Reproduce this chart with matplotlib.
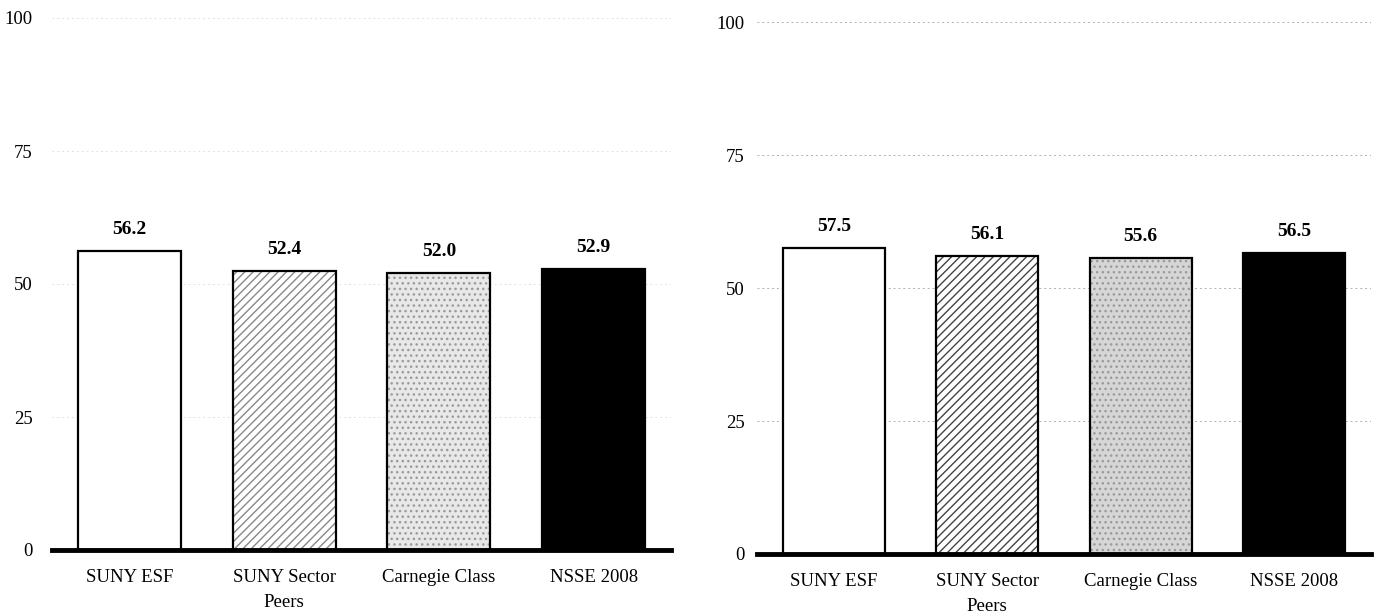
import matplotlib.pyplot as plt

plt.rcParams["font.family"] = ["Liberation Serif", "DejaVu Serif"]

categories = ["SUNY ESF", "SUNY Sector\nPeers", "Carnegie Class", "NSSE 2008"]
left_values = [56.2, 52.4, 52.0, 52.9]
right_values = [57.5, 56.1, 55.6, 56.5]
yticks = [0, 25, 50, 75, 100]

fig = plt.figure(figsize=(13.76, 6.15), dpi=100)
ax_l = fig.add_axes([52 / 1376, 65 / 615, 619 / 1376, 532 / 615])
ax_r = fig.add_axes([757 / 1376, 61 / 615, 614 / 1376, 532 / 615])


def draw_panel(ax, values, stipple_face, grid_color, hatch_color, pad):
    x = range(len(values))
    w = 0.665
    # fills (hatch drawn with edgecolor, so outline is drawn separately)
    fills = ["white", "white", stipple_face, "black"]
    hatches = [None, "////", "...", None]
    hcols = ["white", hatch_color, "#9a9a9a", "black"]
    for i, v in enumerate(values):
        ax.bar(i, v, width=w, color=fills[i], hatch=hatches[i],
               edgecolor=hcols[i], linewidth=0, zorder=2)
    ax.bar(x, values, width=w, facecolor="none", edgecolor="black",
           linewidth=1.6, zorder=3)
    for i, v in enumerate(values):
        ax.annotate(f"{v:.1f}", (i, v), xytext=(0, 13), textcoords="offset pixels",
                    ha="center", va="bottom", fontsize=14, fontweight="bold")

    for t in yticks[1:]:
        ax.axhline(t, color=grid_color, linestyle=(0, (2, 3)), linewidth=0.7, zorder=1)

    ax.set_xlim(-0.5, 3.5)
    ax.set_ylim(0, 100)
    ax.set_yticks(yticks)
    ax.set_xticks(list(x))
    ax.set_xticklabels(categories, linespacing=1.55)
    for s in ["top", "right", "left"]:
        ax.spines[s].set_visible(False)
    ax.spines["bottom"].set_linewidth(3.5)
    ax.spines["bottom"].set_zorder(4)
    ax.tick_params(axis="both", length=0, labelsize=13.5)
    ax.tick_params(axis="y", pad=pad)
    ax.tick_params(axis="x", pad=14)


draw_panel(ax_l, left_values, "#e8e8e8", "#e2e2e2", "#888888", 14)
draw_panel(ax_r, right_values, "#d6d6d6", "#b0b0b0", "#444444", 9)

fig.savefig("out.png", dpi=100)
